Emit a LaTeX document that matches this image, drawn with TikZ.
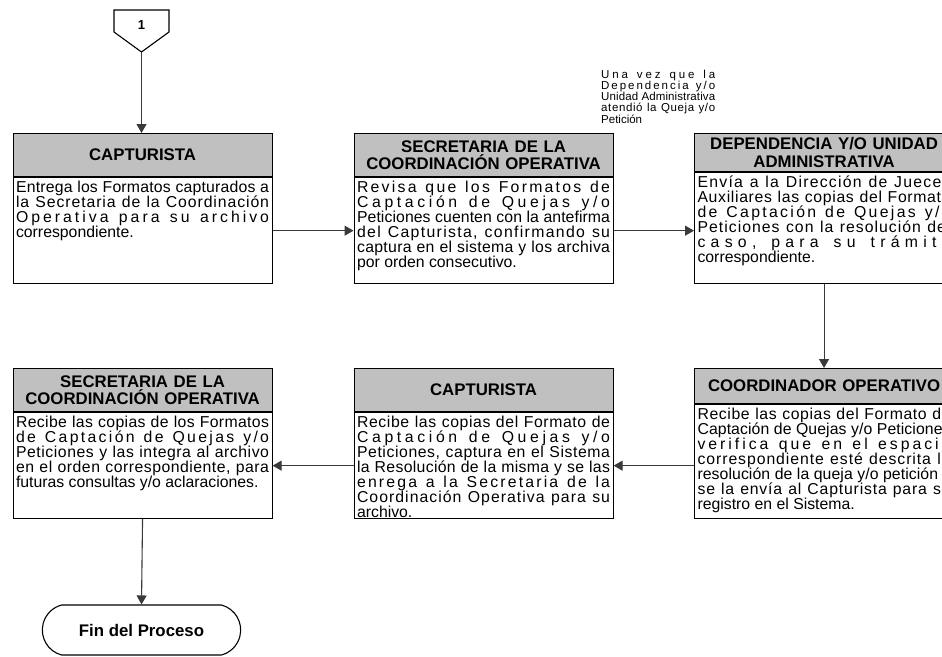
\documentclass[tikz,border=0pt]{standalone}
\usepackage{fontspec}
\setmainfont{Liberation Sans}
\usetikzlibrary{arrows.meta,positioning,shapes.misc}
\definecolor{HeaderGray}{HTML}{C0C0C0}
\definecolor{LineGray}{HTML}{3A3A3A}
\hbadness=10000
\lineskiplimit=-100pt
\ExplSyntaxOn
\cs_new_protected:Npn \sprd_line:n #1
  {
    \seq_set_split:Nnn \l_tmpa_seq { ~ } {#1}
    \noindent\hbox to \hsize
      {
        \seq_map_indexed_inline:Nn \l_tmpa_seq
          {
            \int_compare:nNnT {##1} > {1} { \hskip 0.278em plus 1fil }
            \tl_map_inline:nn {##2} { ####1 \hfil }
          }
        \unskip
      }
    \par
  }
\NewDocumentCommand \spreadline { m } { \sprd_line:n {#1} }
\ExplSyntaxOff

\begin{document}
\begin{tikzpicture}[x=1pt, y=-1pt, >={Triangle[length=9pt,width=10pt]},
  head/.style={draw, line width=1.1pt, fill=HeaderGray, anchor=north west,
    minimum width=259, minimum height=#1, text width=253, inner sep=0pt,
    align=center, font=\fontsize{16.8}{17.5}\selectfont\bfseries},
  head/.default=43,
  body/.style={draw, line width=1.1pt, text width=253, inner xsep=3pt,
    inner ysep=0pt, text height=15pt, text depth=#1, align=justify,
    font=\fontsize{15.8}{15}\selectfont},
  body/.default=91pt,
  flow/.style={->, LineGray, line width=1.1pt}]
  \useasboundingbox (0,0) rectangle (942,656);
  \clip (0,0) rectangle (942,656);

  \draw[line width=1.1pt] (114,10) -- (169,10) -- (169,32) -- (141.5,52)
    -- (114,32) -- cycle;
  \node[font=\fontsize{13}{13}\selectfont\bfseries] (one) at (141.5,25) {1};
  \coordinate (onetip) at (141.5,52);

  \node[font=\fontsize{11.5}{11.3}\selectfont, anchor=base west, text width=114,
    inner sep=0pt, align=justify] (note) at (601,78)
    {\spreadline{Una vez que la}\spreadline{Dependencia y/o}%
     \spreadline{Unidad Administrativa}\spreadline{atendió la Queja y/o}Petición};

  \node[head] (h1) at (12.5,133) {CAPTURISTA};
  \node[body, below=0pt of h1] (b1) {\spreadline{Entrega los Formatos capturados a}%
    \spreadline{la Secretaria de la Coordinación}\spreadline{Operativa para su archivo}%
    correspondiente.};

  \node[head] (h2) at (353.5,133) {SECRETARIA DE LA\\COORDINACIÓN OPERATIVA};
  \node[body, below=0pt of h2] (b2) {\spreadline{Revisa que los Formatos de}%
    \spreadline{Captación de Quejas y/o}\spreadline{Peticiones cuenten con la antefirma}%
    \spreadline{del Capturista, confirmando su}\spreadline{captura en el sistema y los archiva}%
    por orden consecutivo.};

  \node[head=38] (h3) at (694,133) {DEPENDENCIA Y/O UNIDAD\\ADMINISTRATIVA};
  \node[body=96pt, below=0pt of h3] (b3) {\spreadline{Envía a la Dirección de Jueces}%
    \spreadline{Auxiliares las copias del Formato}\spreadline{de Captación de Quejas y/o}%
    \spreadline{Peticiones con la resolución del}\spreadline{caso, para su trámite}%
    correspondiente.};

  \node[head] (h4) at (12.5,368) {SECRETARIA DE LA\\COORDINACIÓN OPERATIVA};
  \node[body, below=0pt of h4] (b4) {\spreadline{Recibe las copias de los Formatos}%
    \spreadline{de Captación de Quejas y/o}\spreadline{Peticiones y las integra al archivo}%
    \spreadline{en el orden correspondiente, para}futuras consultas y/o aclaraciones.};

  \node[head] (h5) at (353.5,368) {CAPTURISTA};
  \node[body, below=0pt of h5] (b5) {\spreadline{Recibe las copias del Formato de}%
    \spreadline{Captación de Quejas y/o}\spreadline{Peticiones, captura en el Sistema}%
    \spreadline{la Resolución de la misma y se las}\spreadline{enrega a la Secretaria de la}%
    \spreadline{Coordinación Operativa para su}archivo.};

  \node[head=35] (h6) at (694,368) {COORDINADOR OPERATIVO};
  \node[body=99pt, below=0pt of h6] (b6) {\spreadline{Recibe las copias del Formato de}%
    \spreadline{Captación de Quejas y/o Peticiones}\spreadline{verifica que en el espacio}%
    \spreadline{correspondiente esté descrita la}\spreadline{resolución de la queja y/o petición y}%
    \spreadline{se la envía al Capturista para su}registro en el Sistema.};

  \node[draw, line width=1.1pt, rounded rectangle, rounded rectangle arc length=150,
    minimum width=205, minimum height=50,
    font=\fontsize{16.8}{17}\selectfont\bfseries] (fin) at (141.5,630) {Fin del Proceso};

  \draw[flow] (onetip) -- (onetip |- h1.north);
  \draw[flow] (b1.east) -- (b2.west);
  \draw[flow] (b2.east) -- (b2.east -| b3.west);
  \draw[flow] (b3.south) -- (h6.north);
  \draw[flow] (b5.east -| b6.west) -- (b5.east);
  \draw[flow] (b5.west) -- (b4.east);
  \draw[flow] (b4.south) -- (fin.north);
\end{tikzpicture}
\end{document}
